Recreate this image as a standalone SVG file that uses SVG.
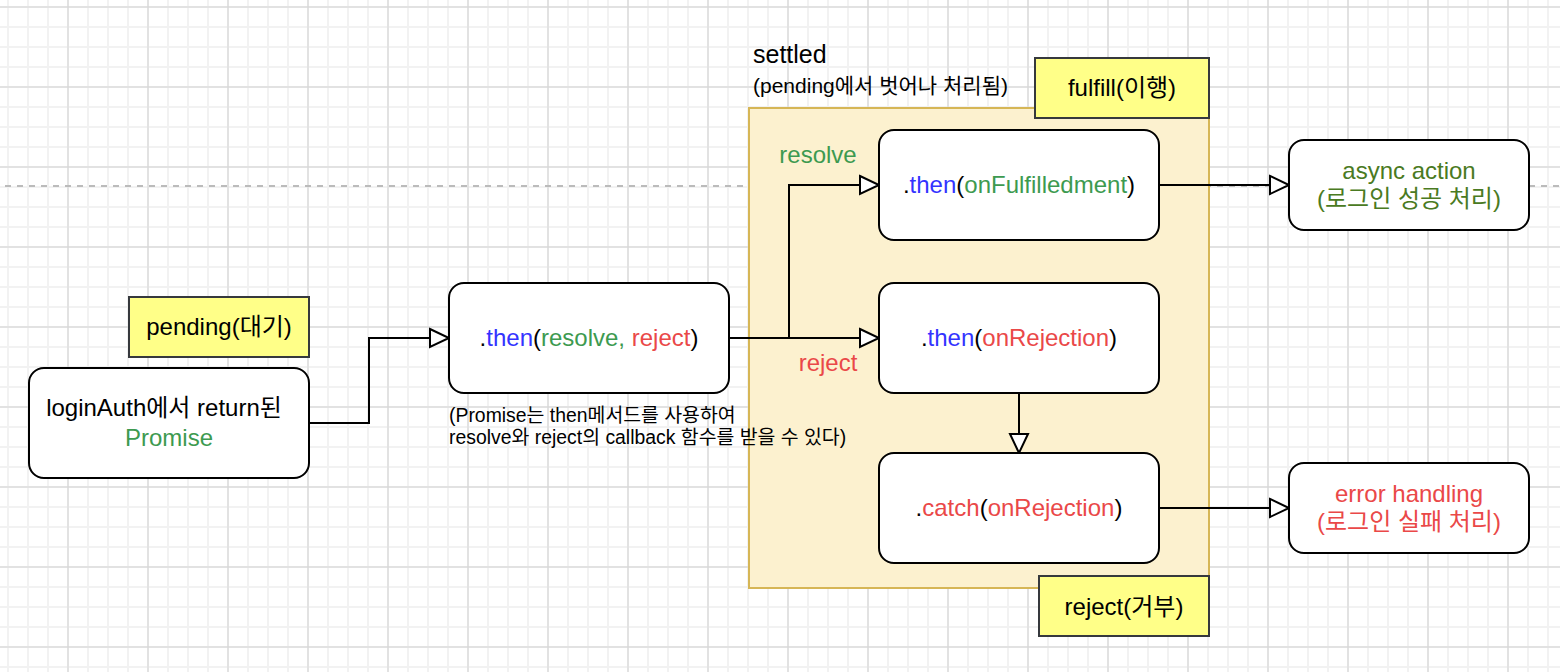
<svg xmlns="http://www.w3.org/2000/svg" width="1560" height="672" viewBox="0 0 1560 672">
<style>
text{font-family:"Liberation Sans","Noto Sans CJK KR",Arial,sans-serif;fill:#000;}
.lbl{font-size:24px;text-anchor:middle;}
.node{fill:#fff;stroke:#000;stroke-width:2;}
.note{fill:#ffff88;stroke:#36393d;stroke-width:2;}
.edge{fill:none;stroke:#000;stroke-width:2;}
.blue{fill:#3333ff;}
.green{fill:#3d9a50;}
.red{fill:#ea4848;}
.olive{fill:#4a7a22;}
</style>
<defs>
<pattern id="minor" width="20" height="20" patternUnits="userSpaceOnUse">
<path d="M8,0 V20 M0,7 H20" stroke="#f2f2f2" stroke-width="2" fill="none"/>
</pattern>
<pattern id="major" width="80" height="80" patternUnits="userSpaceOnUse">
<path d="M68,0 V80 M0,7 H80" stroke="#d2d2d2" stroke-width="1" fill="none"/>
</pattern>
<marker id="arrow" markerUnits="userSpaceOnUse" markerWidth="24" markerHeight="24" viewBox="-2 -2 24 24" refX="19" refY="9" orient="auto">
<path d="M0,0 L19,9 L0,18 Z" fill="#fff" stroke="#000" stroke-width="2"/>
</marker>
</defs>
<g id="background">
<rect width="1560" height="672" fill="#fff"/>
<rect width="1560" height="672" fill="url(#minor)"/>
<rect width="1560" height="672" fill="url(#major)"/>
<line x1="5" y1="186" x2="1560" y2="186" stroke="#bbbbbb" stroke-width="2" stroke-dasharray="6 6"/>
</g>
<g id="settled">
<rect x="749" y="108" width="460" height="480" fill="#fcf1cf" stroke="#d6b656" stroke-width="2"/>
<text x="753" y="63" font-size="25">settled</text>
<text x="753" y="93" font-size="21">(pending에서 벗어나 처리됨)</text>
</g>
<g id="connectors">
<path class="edge" d="M309,423 H369 V338 H449" marker-end="url(#arrow)"/>
<path class="edge" d="M729,338 H789 V185 H879" marker-end="url(#arrow)"/>
<path class="edge" d="M789,338 H879" marker-end="url(#arrow)"/>
<path class="edge" d="M1019,393 V453" marker-end="url(#arrow)"/>
<path class="edge" d="M1159,185 H1289" marker-end="url(#arrow)"/>
<path class="edge" d="M1159,508 H1289" marker-end="url(#arrow)"/>
<text class="lbl green" x="818" y="163">resolve</text>
<text class="lbl red" x="828" y="371">reject</text>
</g>
<g id="fulfill">
<rect class="note" x="1035" y="58" width="174" height="60"/>
<text class="lbl" x="1122" y="96">fulfill(이행)</text>
</g>
<g id="reject">
<rect class="note" x="1039" y="576" width="170" height="60"/>
<text class="lbl" x="1124" y="615">reject(거부)</text>
</g>
<g id="pending">
<rect class="note" x="129" y="297" width="180" height="60"/>
<text class="lbl" x="219" y="335">pending(대기)</text>
</g>
<g id="loginAuth">
<rect class="node" x="29" y="368" width="280" height="110" rx="15"/>
<text class="lbl" x="164" y="416">loginAuth에서 return된</text>
<text class="lbl green" x="169" y="446">Promise</text>
</g>
<g id="thenResolveReject">
<rect class="node" x="449" y="283" width="280" height="110" rx="15"/>
<text class="lbl" x="589" y="346">.<tspan class="blue">then</tspan>(<tspan class="green">resolve, </tspan><tspan class="red">reject</tspan>)</text>
<text x="449" y="422" font-size="19.4">(Promise는 then메서드를 사용하여</text>
<text x="449" y="444" font-size="19.4">resolve와 reject의 callback 함수를 받을 수 있다)</text>
</g>
<g id="thenFulfilled">
<rect class="node" x="879" y="130" width="280" height="110" rx="15"/>
<text class="lbl" x="1019" y="193">.<tspan class="blue">then</tspan>(<tspan class="green">onFulfilledment</tspan>)</text>
</g>
<g id="thenRejection">
<rect class="node" x="879" y="283" width="280" height="110" rx="15"/>
<text class="lbl" x="1019" y="346">.<tspan class="blue">then</tspan>(<tspan class="red">onRejection</tspan>)</text>
</g>
<g id="catchRejection">
<rect class="node" x="879" y="453" width="280" height="110" rx="15"/>
<text class="lbl" x="1019" y="516">.<tspan class="red">catch</tspan>(<tspan class="red">onRejection</tspan>)</text>
</g>
<g id="asyncAction">
<rect class="node" x="1289" y="140" width="240" height="90" rx="15"/>
<text class="lbl olive" x="1409" y="179">async action</text>
<text class="lbl olive" x="1409" y="207">(로그인 성공 처리)</text>
</g>
<g id="errorHandling">
<rect class="node" x="1289" y="463" width="240" height="90" rx="15"/>
<text class="lbl red" x="1409" y="502">error handling</text>
<text class="lbl red" x="1409" y="530">(로그인 실패 처리)</text>
</g>
</svg>
